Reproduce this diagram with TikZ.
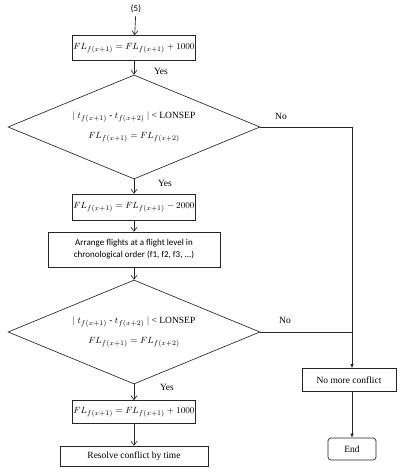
\documentclass[tikz,border=0pt]{standalone}
\usepackage{fontspec}
\setmainfont{Liberation Serif}
\newfontfamily\calfont{Carlito}
\usetikzlibrary{shapes.geometric,arrows.meta}

\def \lx {134}
\def \rx {352}

\begin{document}
\begin{tikzpicture}[x=1pt,y=-1pt,line width=0.65pt,draw=black!85,
  font=\fontsize{9.5}{11}\selectfont,
  box/.style={draw,rectangle,inner sep=1pt},
  test/.style={draw,diamond,aspect=2.42,inner sep=0pt,minimum width=252pt,minimum height=104pt},
  flow/.style={-{Straight Barb[length=4pt,width=6pt]}},
  flowr/.style={-{Latex[length=4pt,width=3.5pt]}},
  lbl/.style={inner sep=0pt}]
      \useasboundingbox (0,0) rectangle (403,474);
      %nodes left
      \node[lbl,font=\calfont\fontsize{9}{10}\selectfont] (five) at (136,9) {(5)};
      \node[box,minimum width=118pt,minimum height=25pt] (fla) at (\lx,48) {$FL_{f(x+1)} = FL_{f(x+1)} + 1000$};
      \node[test,align=center] (testa) at (\lx,127) {$|$\ $t_{f(x+1)}$ - $t_{f(x+2)}$ $|$ < LONSEP\\[9pt] $FL_{f(x+1)} = FL_{f(x+2)}$};
      \node[box,minimum width=118pt,minimum height=26pt] (flb) at (\lx,207) {$FL_{f(x+1)} = FL_{f(x+1)} - 2000$};
      \node[box,minimum width=172pt,minimum height=35pt,align=center,font=\calfont\fontsize{9}{12}\selectfont] (arrange) at (\lx,249.5) {Arrange flights at a flight level in\\chronological order (f1, f2, f3, ...)};
      \node[test,align=center] (testb) at (\lx,332) {$|$\ $t_{f(x+1)}$ - $t_{f(x+2)}$ $|$ < LONSEP\\[9pt] $FL_{f(x+1)} = FL_{f(x+2)}$};
      \node[box,minimum width=119pt,minimum height=23pt] (flc) at (\lx,412) {$FL_{f(x+1)} = FL_{f(x+1)} + 1000$};
      \node[box,minimum width=148pt,minimum height=20pt] (resolve) at (\lx,456) {Resolve conflict by time};
      %nodes right
      \node[box,minimum width=94pt,minimum height=23pt] (nomore) at (349,380) {No more conflict};
      \node[box,rounded corners=3pt,minimum width=48pt,minimum height=22pt] (end) at (\rx,449) {End};
      \coordinate (corner) at (\rx,127);
      %labels
      \node[lbl] (yesa) at (161,71) {Yes};
      \node[lbl] (yesb) at (165,183) {Yes};
      \node[lbl] (yesc) at (167,387) {Yes};
      \node[lbl] (noa) at (281,116) {No};
      \node[lbl] (nob) at (285,320) {No};
      %edges
      \draw[flow,shorten <=3pt] (five) -- (fla);
      \draw[flow] (fla) -- (testa.north);
      \draw[flow] (testa.south) -- (flb);
      \draw[flow] (flb) -- (arrange);
      \draw[flow] (arrange) -- (testb.north);
      \draw[flow] (testb.south) -- (flc);
      \draw[flow] (flc) -- (resolve);
      \draw[flowr] (testa.east) -- (corner) -- (corner |- nomore.north);
      \draw (testb.east) -- (testb.east -| corner);
      \draw[flowr] (corner |- nomore.south) -- (end);
\end{tikzpicture}
\end{document}
